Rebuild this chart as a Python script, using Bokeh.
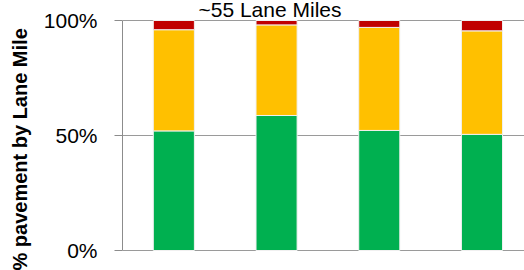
from bokeh.plotting import figure
from bokeh.models import ColumnDataSource, Range1d, FixedTicker, Label, CustomJSTickFormatter
from bokeh.embed import file_html
from bokeh.resources import INLINE

# Data (percent of pavement by lane mile)
sections = ["A", "B", "C", "D"]
good = [52.0, 58.7, 52.2, 50.5]
fair = [44.0, 39.4, 44.8, 45.0]
poor = [4.0, 1.9, 3.0, 4.5]
y_ticks = [0, 50, 100]
title_text = "~55 Lane Miles"
y_label = "% pavement by Lane Mile"

xpos = [i + 0.5 for i in range(len(sections))]
source = ColumnDataSource(dict(x=xpos, good=good, fair=fair, poor=poor))

# frame spans the full canvas height; headroom above 100% holds the title
p = figure(width=524, height=270, output_backend="svg", toolbar_location=None,
           x_range=Range1d(0, 3.914), y_range=Range1d(-8.696, 108.7),
           min_border_left=122, min_border_top=0, min_border_bottom=0,
           min_border_right=0)
p.outline_line_color = None
p.background_fill_color = "white"
p.border_fill_color = "white"

p.vbar_stack(["good", "fair", "poor"], x="x", width=0.4, source=source,
             color=["#00B050", "#FFC000", "#C00000"],
             line_color="#f0f0f0", line_width=1)

p.xaxis.visible = False
p.xgrid.visible = False

yax = p.yaxis[0]
yax.bounds = (0, 100)
yax.ticker = FixedTicker(ticks=y_ticks)
yax.formatter = CustomJSTickFormatter(code="return tick + '%';")
yax.minor_tick_line_color = None
yax.major_tick_out = 8
yax.major_tick_in = 0
yax.major_tick_line_color = "#8c8c8c"
yax.axis_line_color = "#8c8c8c"
yax.major_label_standoff = 17
yax.major_label_text_font = "Liberation Sans"
yax.major_label_text_font_size = "21px"
yax.major_label_text_color = "black"
yax.axis_label = y_label + "\u00a0" * 5
yax.axis_label_text_font = "Liberation Sans"
yax.axis_label_text_font_style = "bold"
yax.axis_label_text_font_size = "20px"
yax.axis_label_text_color = "black"
yax.axis_label_standoff = 10

p.ygrid.ticker = FixedTicker(ticks=y_ticks)
p.ygrid.grid_line_color = "#9a9a9a"
p.ygrid.grid_line_width = 1

p.add_layout(Label(x=1.436, y=104.8, text=title_text, text_align="center",
                   text_baseline="alphabetic", text_font="Liberation Sans",
                   text_font_size="21px", text_color="black"))

open("out.html", "w").write(file_html(p, INLINE))
